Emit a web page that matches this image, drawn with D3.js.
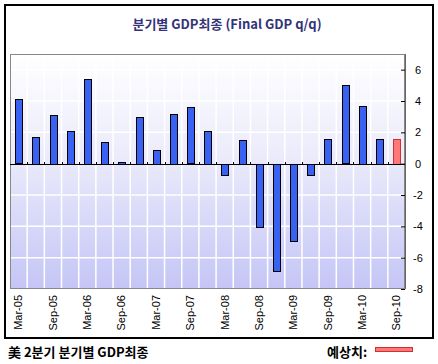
<!DOCTYPE html>
<html>
<head>
<meta charset="utf-8">
<script src="https://cdn.jsdelivr.net/npm/d3@7"></script>
<style>
  body { margin: 0; background: #fff; }
  svg { display: block; }
</style>
</head>
<body>
<div id="chart"></div>
<script>
var quarters = ["Mar-05", "Jun-05", "Sep-05", "Dec-05",
    "Mar-06", "Jun-06", "Sep-06", "Dec-06",
    "Mar-07", "Jun-07", "Sep-07", "Dec-07",
    "Mar-08", "Jun-08", "Sep-08", "Dec-08",
    "Mar-09", "Jun-09", "Sep-09", "Dec-09",
    "Mar-10", "Jun-10", "Sep-10"];
var gdp = [4.1, 1.7, 3.1, 2.1, 5.4, 1.4, 0.1, 3.0, 0.9, 3.2, 3.6, 2.1,
    -0.7, 1.5, -4.0, -6.8, -4.9, -0.7, 1.6, 5.0, 3.7, 1.6, 1.6];
var forecast = ["Sep-10"];
var yTicks = [-8, -6, -4, -2, 0, 2, 4, 6];
var xLabels = quarters.filter((q) => q.startsWith("Mar") || q.startsWith("Sep"));

const width = 438;
const height = 364;
const plot = {left: 10, right: 405, top: 54, bottom: 289};

const svg = d3.select("#chart").append("svg")
    .attr("width", width)
    .attr("height", height);

// outer frame
svg.append("rect")
    .attr("x", 5).attr("y", 5)
    .attr("width", 428).attr("height", 333)
    .attr("fill", "#fff")
    .attr("stroke", "#000")
    .attr("stroke-width", 2);

svg.append("text")
    .attr("x", 227).attr("y", 29)
    .attr("text-anchor", "middle")
    .attr("font-family", "'Noto Sans CJK KR', 'DejaVu Sans', sans-serif")
    .attr("font-size", 13)
    .attr("font-weight", "bold")
    .attr("fill", "#333377")
    .text("분기별 GDP최종 (Final GDP q/q)");

var x = d3.scaleBand().domain(quarters).range([plot.left, plot.right])
    .paddingInner(0.62).paddingOuter(0.31);
var xGrid = d3.scaleBand().domain(quarters).range([plot.left, plot.right]);
var y = d3.scaleLinear().domain([-8, 7]).range([plot.bottom, plot.top]);

var grad = svg.append("defs").append("linearGradient")
    .attr("id", "bg").attr("x1", 0).attr("y1", 0).attr("x2", 0).attr("y2", 1);
grad.append("stop").attr("offset", "0%").attr("stop-color", "#ffffff");
grad.append("stop").attr("offset", "45%").attr("stop-color", "#eaeafb");
grad.append("stop").attr("offset", "100%").attr("stop-color", "#c4c5f6");

svg.append("rect")
    .attr("x", plot.left).attr("y", plot.top)
    .attr("width", plot.right - plot.left).attr("height", plot.bottom - plot.top)
    .attr("fill", "url(#bg)");

// grid
svg.append("g").selectAll("line")
    .data(quarters.slice(1))
    .join("line")
    .attr("x1", (d) => xGrid(d)).attr("x2", (d) => xGrid(d))
    .attr("y1", plot.top).attr("y2", plot.bottom)
    .attr("stroke", "#fff").attr("stroke-width", 1.5);

svg.append("g").selectAll("line")
    .data(yTicks.filter((t) => t != 0 && t != -8))
    .join("line")
    .attr("x1", plot.left).attr("x2", plot.right)
    .attr("y1", (d) => y(d)).attr("y2", (d) => y(d))
    .attr("stroke", "#fff").attr("stroke-width", 1.5);

svg.append("rect")
    .attr("x", plot.left + 0.5).attr("y", plot.top + 0.5)
    .attr("width", plot.right - plot.left - 1).attr("height", plot.bottom - plot.top - 1)
    .attr("fill", "none")
    .attr("stroke", "#888");

// bars
svg.append("g").selectAll("rect")
    .data(quarters)
    .join("rect")
    .attr("x", (d) => Math.round(x(d)) + 0.5)
    .attr("y", (d, i) => Math.round(y(Math.max(0, gdp[i]))) + 0.5)
    .attr("width", Math.round(x.bandwidth()))
    .attr("height", (d, i) => Math.max(1, Math.round(Math.abs(y(gdp[i]) - y(0)))))
    .attr("fill", (d) => forecast.includes(d) ? "#ff7777" : "#3a62f2")
    .attr("stroke", (d) => forecast.includes(d) ? "#d03030" : "#000")
    .attr("stroke-width", 1);

// zero line with ticks
svg.append("line")
    .attr("x1", plot.left).attr("x2", plot.right)
    .attr("y1", Math.round(y(0)) + 0.5).attr("y2", Math.round(y(0)) + 0.5)
    .attr("stroke", "#000");

svg.append("g").selectAll("line")
    .data(quarters.slice(1))
    .join("line")
    .attr("x1", (d) => Math.round(xGrid(d)) + 0.5).attr("x2", (d) => Math.round(xGrid(d)) + 0.5)
    .attr("y1", Math.round(y(0)) - 2).attr("y2", Math.round(y(0)) + 1)
    .attr("stroke", "#000");

// y axis on the right
var yAxis = svg.append("g")
    .attr("transform", `translate(${plot.right},0)`)
    .call(d3.axisRight(y).tickValues(yTicks).tickSize(0).tickPadding(0));
yAxis.select(".domain").remove();
yAxis.selectAll(".tick line")
    .attr("x1", -4).attr("x2", 0)
    .attr("stroke", "#000");
yAxis.selectAll(".tick text")
    .attr("x", 13)
    .attr("text-anchor", "middle")
    .attr("font-family", "'Liberation Sans', sans-serif")
    .attr("font-size", 11)
    .attr("fill", "#000")
    .text((d) => d < 0 ? "-" + Math.abs(d) : d);
svg.append("line")
    .attr("x1", plot.right + 0.5).attr("x2", plot.right + 0.5)
    .attr("y1", plot.top).attr("y2", plot.bottom)
    .attr("stroke", "#666");

// x axis labels
var xAxis = svg.append("g")
    .attr("transform", `translate(0,${plot.bottom})`)
    .call(d3.axisBottom(x).tickValues(xLabels).tickSize(0).tickPadding(0));
xAxis.select(".domain").remove();
xAxis.selectAll(".tick text")
    .attr("transform", "rotate(-90)")
    .attr("x", -6).attr("y", 0).attr("dy", "0.35em")
    .attr("text-anchor", "end")
    .attr("font-family", "'Liberation Sans', sans-serif")
    .attr("font-size", 11)
    .attr("fill", "#000");

// footer
svg.append("text")
    .attr("x", 8).attr("y", 357)
    .attr("font-family", "'Noto Sans CJK KR', sans-serif")
    .attr("font-size", 13)
    .attr("font-weight", "bold")
    .attr("fill", "#000")
    .text("美 2분기 분기별 GDP최종");

svg.append("text")
    .attr("x", 327).attr("y", 357)
    .attr("font-family", "'Noto Sans CJK KR', sans-serif")
    .attr("font-size", 13)
    .attr("font-weight", "bold")
    .attr("fill", "#000")
    .text("예상치:");

svg.append("rect")
    .attr("x", 375.5).attr("y", 347.5)
    .attr("width", 37).attr("height", 4)
    .attr("fill", "#ff7777")
    .attr("stroke", "#d03030");
</script>
</body>
</html>
